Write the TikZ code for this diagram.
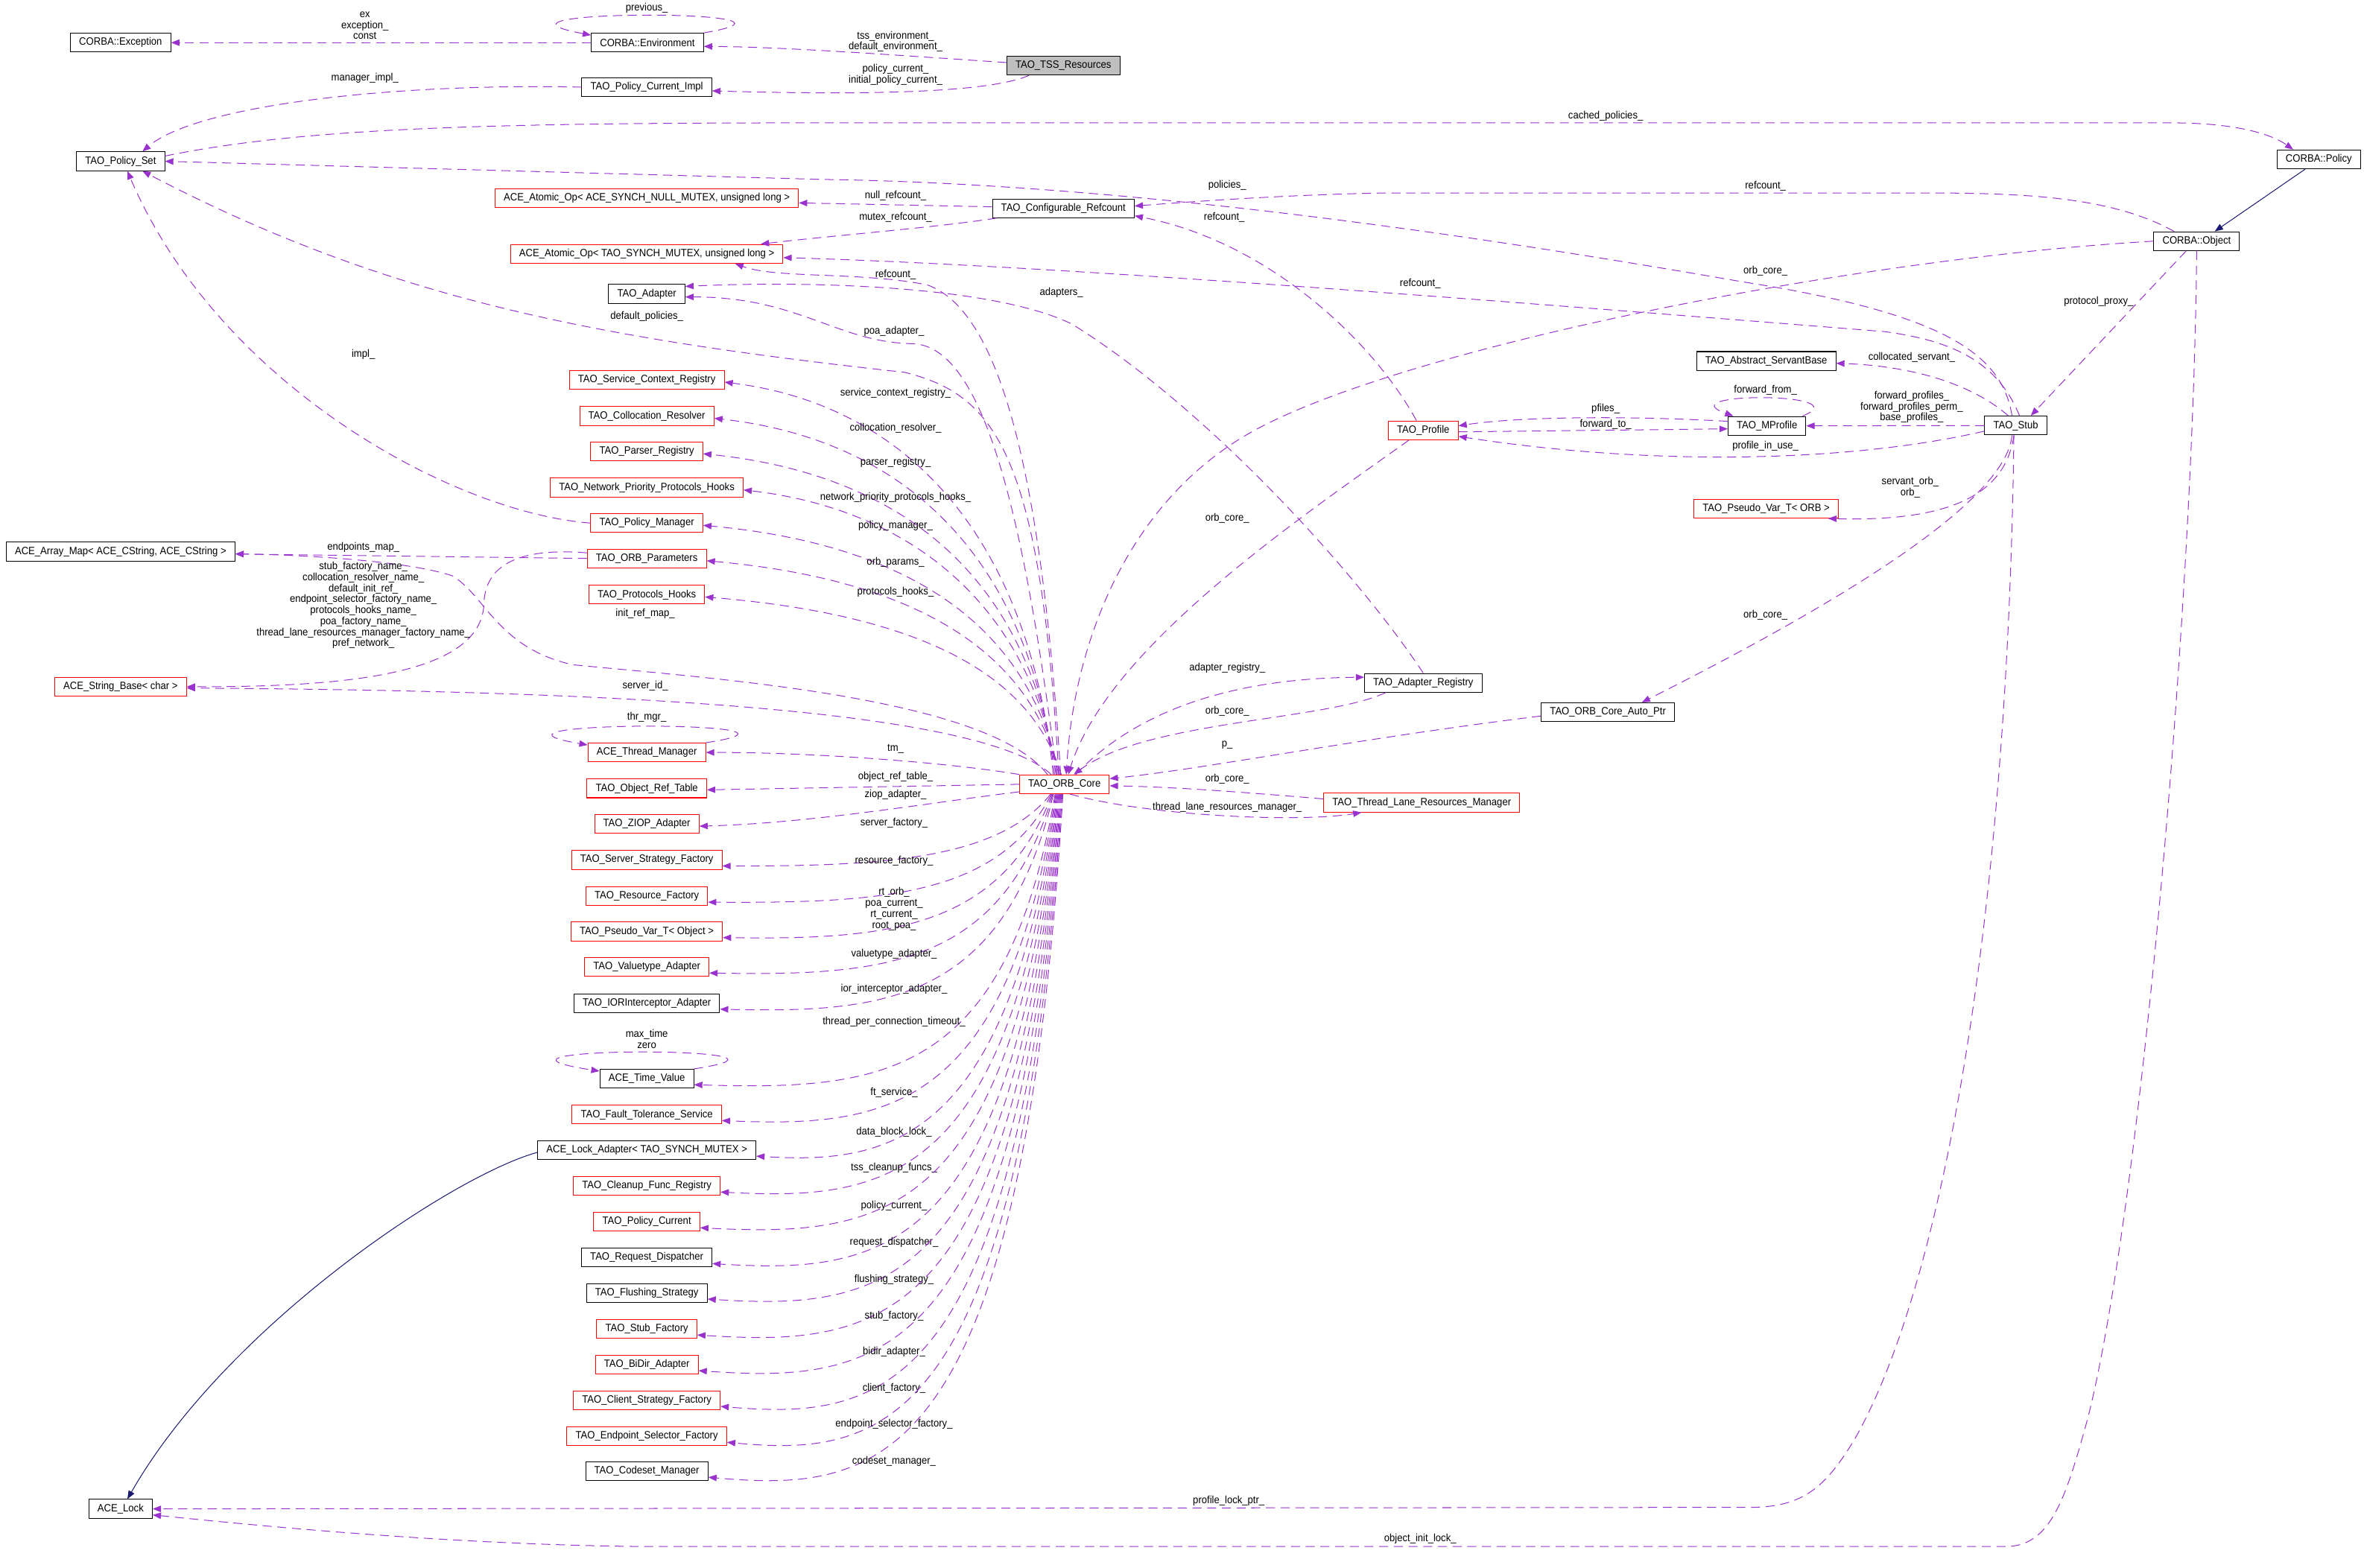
\documentclass[tikz,border=0pt]{standalone}
\usepackage{fontspec}
\setmainfont{Liberation Sans}[FakeStretch=0.92]
\usetikzlibrary{arrows.meta}

\definecolor{memberline}{HTML}{9A32CD}
\definecolor{inheritline}{HTML}{191970}

\tikzset{
  cls/.style={draw=black, fill=white, line width=0.2mm, minimum height=5mm,
    inner xsep=2.3mm, inner ysep=0.3mm, font=\fontsize{8}{8.3}\selectfont},
  clsred/.style={cls, draw=red},
  clsgray/.style={cls, fill=black!25},
  uses/.style={draw=memberline, line width=0.2mm, dash pattern=on 2.4mm off 1.5mm,
    -{Triangle[length=2.2mm, width=1.7mm]}},
  inherits/.style={draw=inheritline, line width=0.2mm,
    -{Triangle[length=2.2mm, width=1.7mm]}},
  lbl/.style={font=\fontsize{8}{8.3}\selectfont, align=center, inner sep=0pt, text=black}
}

\begin{document}
\begin{tikzpicture}[x=0.4mm, y=-0.4mm]
    \useasboundingbox (0,0) rectangle (1568,1040);

    % classes
    \node[cls] (exception) at (80,28.3) {CORBA::Exception};
    \node[cls] (environment) at (429.4,28.3) {CORBA::Environment};
    \node[clsgray] (tssres) at (705.3,43.5) {TAO\_TSS\_Resources};
    \node[cls] (pcimpl) at (429,57.8) {TAO\_Policy\_Current\_Impl};
    \node[cls] (policyset) at (80,107) {TAO\_Policy\_Set};
    \node[cls] (confrefcount) at (705.3,138.2) {TAO\_Configurable\_Refcount};
    \node[cls] (corbapolicy) at (1538,105.7) {CORBA::Policy};
    \node[cls] (corbaobject) at (1457,160) {CORBA::Object};
    \node[cls] (arraymap) at (80,366) {ACE\_Array\_Map< ACE\_CString, ACE\_CString >};
    \node[clsred] (stringbase) at (80,455.5) {ACE\_String\_Base< char >};
    \node[cls] (acelock) at (80,1001) {ACE\_Lock};
    \node[clsred] (orbcore) at (706,520.3) {TAO\_ORB\_Core};
    \node[clsred] (profile) at (944,285.5) {TAO\_Profile};
    \node[cls] (mprofile) at (1172,282.5) {TAO\_MProfile};
    \node[cls] (servantbase) at (1171.5,239.5) {TAO\_Abstract\_ServantBase};
    \node[cls] (stub) at (1337,282.3) {TAO\_Stub};
    \node[clsred] (pseudoorb) at (1171.5,337.5) {TAO\_Pseudo\_Var\_T< ORB >};
    \node[cls] (adapterreg) at (944,453) {TAO\_Adapter\_Registry};
    \node[cls] (autoptr) at (1066.5,472.5) {TAO\_ORB\_Core\_Auto\_Ptr};
    \node[clsred] (tlrm) at (943,532.5) {TAO\_Thread\_Lane\_Resources\_Manager};

    \foreach \n/\y/\sty/\txt in {
        atomicnull/131.6/clsred/{ACE\_Atomic\_Op< ACE\_SYNCH\_NULL\_MUTEX, unsigned long >},
        atomicmutex/168.4/clsred/{ACE\_Atomic\_Op< TAO\_SYNCH\_MUTEX, unsigned long >},
        adapter/195/cls/TAO\_Adapter,
        svcctx/252/clsred/TAO\_Service\_Context\_Registry,
        colloc/276/clsred/TAO\_Collocation\_Resolver,
        parser/299.5/clsred/TAO\_Parser\_Registry,
        netprio/323.5/clsred/TAO\_Network\_Priority\_Protocols\_Hooks,
        policymgr/347/clsred/TAO\_Policy\_Manager,
        orbparams/370.5/clsred/TAO\_ORB\_Parameters,
        protohooks/394.5/clsred/TAO\_Protocols\_Hooks,
        thrmgr/499.2/clsred/ACE\_Thread\_Manager,
        objref/523/clsred/TAO\_Object\_Ref\_Table,
        ziop/546.6/clsred/TAO\_ZIOP\_Adapter,
        serverfac/570.5/clsred/TAO\_Server\_Strategy\_Factory,
        resfac/594.5/clsred/TAO\_Resource\_Factory,
        pseudoobj/618/clsred/{TAO\_Pseudo\_Var\_T< Object >},
        valuetype/641.5/clsred/TAO\_Valuetype\_Adapter,
        iorint/665.5/cls/TAO\_IORInterceptor\_Adapter,
        timevalue/715.6/cls/ACE\_Time\_Value,
        ftservice/739.4/clsred/TAO\_Fault\_Tolerance\_Service,
        lockadapter/763/cls/{ACE\_Lock\_Adapter< TAO\_SYNCH\_MUTEX >},
        cleanup/786.8/clsred/TAO\_Cleanup\_Func\_Registry,
        policycur/810.5/clsred/TAO\_Policy\_Current,
        reqdisp/834.3/cls/TAO\_Request\_Dispatcher,
        flushing/857.8/cls/TAO\_Flushing\_Strategy,
        stubfac/881.6/clsred/TAO\_Stub\_Factory,
        bidir/905.3/clsred/TAO\_BiDir\_Adapter,
        clientfac/929/clsred/TAO\_Client\_Strategy\_Factory,
        endpointsel/952.8/clsred/TAO\_Endpoint\_Selector\_Factory,
        codeset/976/cls/TAO\_Codeset\_Manager}
        \node[\sty] (\n) at (429,\y) {\txt};

    % inheritance
    \draw[inherits] ([xshift=-3.6mm]corbapolicy.south) -- ([xshift=4.8mm]corbaobject.north);
    \draw[inherits] ([yshift=-0.6mm]lockadapter.west) .. controls (300,780) and (150,880) .. ([xshift=1.8mm]acelock.north);

    % top left
    \draw[uses] (environment.west) -- (exception.east) node[lbl] at (242,17) {ex\\exception\_\\const};
    \draw[uses] (environment.north east) .. controls (560,6) and (300,6) .. ([yshift=-0.6mm]environment.north west) node[lbl] at (429,5.5) {previous\_};
    \draw[uses] ([yshift=0.8mm]tssres.west) .. controls (600,37) and (520,31) .. ([yshift=-1mm]environment.east) node[lbl] at (594,27.5) {tss\_environment\_\\default\_environment\_};
    \draw[uses] ([xshift=6mm]tssres.south west) .. controls (655,62) and (570,63) .. ([yshift=-1mm]pcimpl.east) node[lbl] at (594,49.5) {policy\_current\_\\initial\_policy\_current\_};
    \draw[uses] (pcimpl.west) .. controls (260,55) and (130,70) .. ([xshift=-6mm]policyset.north east) node[lbl] at (242,52) {manager\_impl\_};
    \draw[uses] ([yshift=-1.2mm]policyset.north east) .. controls (200,85) and (320,81.5) .. (544,81.5) -- (1440,81.5) .. controls (1480,81.5) and (1505,88) .. ([xshift=4.4mm]corbapolicy.north west) node[lbl] at (1065,77) {cached\_policies\_};
    \draw[uses] (policymgr.west) .. controls (300,340) and (145,255) .. ([xshift=-10mm]policyset.south east) node[lbl] at (241,235) {impl\_};

    % refcounts
    \draw[uses] ([yshift=0.4mm]confrefcount.west) -- ([yshift=-1.2mm]atomicnull.east) node[lbl] at (594,130) {null\_refcount\_};
    \draw[uses] ([xshift=1.2mm]confrefcount.south west) .. controls (620,151) and (555,156) .. ([xshift=-6mm]atomicmutex.north east) node[lbl] at (594,144) {mutex\_refcount\_};
    \draw[uses] ([xshift=-1.8mm]profile.north) .. controls (910,225) and (840,160) .. ([yshift=-2mm]confrefcount.east) node[lbl] at (812,144) {refcount\_};
    \draw[uses] ([xshift=-6mm]corbaobject.north) .. controls (1400,130) and (1340,128) .. (1274,128) -- (920,128) .. controls (860,129) and (800,133) .. ([yshift=0.6mm]confrefcount.east) node[lbl] at (1171,123.5) {refcount\_};
    \draw[uses] ([xshift=-1mm]stub.north) .. controls (1328,235) and (1290,208) .. (1156,187) .. controls (1000,160) and (760,122) .. (544,119) -- (policyset.east) node[lbl] at (814,123) {policies\_};
    \draw[uses] ([xshift=1mm]stub.north) .. controls (1325,240) and (1295,226) .. (1250,220) .. controls (1000,200) and (700,176) .. ([yshift=-1mm]atomicmutex.east) node[lbl] at (942,188) {refcount\_};

    % ORB core, upwards
    \draw[uses] ([xshift=-1mm]orbcore.north) .. controls (690,300) and (660,205) .. (615,189) .. controls (570,180) and (515,185) .. ([xshift=-12.8mm]atomicmutex.south east) node[lbl] at (594,182) {refcount\_};
    \draw[uses] ([xshift=-1.5mm]orbcore.north) .. controls (690,300) and (660,262) .. (600,247) .. controls (400,225) and (260,200) .. ([xshift=-6mm]policyset.south east) node[lbl] at (429,210) {default\_policies\_};
    \draw[uses] ([xshift=-2mm]orbcore.north) .. controls (678,330) and (650,229) .. (605,228) .. controls (555,227) and (530,197) .. ([yshift=-0.8mm]adapter.east) node[lbl] at (593,220) {poa\_adapter\_};
    \foreach \n/\y/\cy/\ly/\lab in {
        svcctx/252/270/261/service\_context\_registry\_,
        colloc/276/293/284/collocation\_resolver\_,
        parser/299.5/316/307/parser\_registry\_,
        netprio/323.5/339/330/network\_priority\_protocols\_hooks\_,
        policymgr/347/362/349/policy\_manager\_,
        orbparams/370.5/385/373/orb\_params\_,
        protohooks/394.5/408/393/protocols\_hooks\_}
        \draw[uses] ([xshift={-3mm+0.015mm*(\y-250)}]orbcore.north) .. controls (684,{\y+0.45*(513-\y)}) and (612,\cy) .. ([yshift=-0.6mm]\n.east) node[lbl] at (594,\ly) {\lab};
    \draw[uses] ([xshift=-4.5mm]orbcore.north) .. controls (655,462) and (470,450) .. (380,441) .. controls (330,430) and (322,395) .. (300,382) .. controls (270,372) and (200,368) .. ([yshift=-0.6mm]arraymap.east) node[lbl] at (428,407) {init\_ref\_map\_};
    \draw[uses] ([xshift=-3.5mm]orbcore.north) .. controls (650,470) and (400,458) .. ([yshift=-0.4mm]stringbase.east) node[lbl] at (428,455) {server\_id\_};
    \draw[uses] (orbparams.west) -- ([yshift=-0.6mm]arraymap.east) node[lbl] at (241,363) {endpoints\_map\_};
    \draw[uses] ([yshift=1.5mm]orbparams.west) .. controls (342,363) and (322,376) .. (321,400) .. controls (320,445) and (240,456) .. (stringbase.east)
        node[lbl] at (241,401.5) {stub\_factory\_name\_\\collocation\_resolver\_name\_\\default\_init\_ref\_\\endpoint\_selector\_factory\_name\_\\protocols\_hooks\_name\_\\poa\_factory\_name\_\\thread\_lane\_resources\_manager\_factory\_name\_\\pref\_network\_};

    % ORB core, downwards
    \draw[uses] (thrmgr.north east) .. controls (565,478) and (295,478) .. ([yshift=-0.6mm]thrmgr.north west) node[lbl] at (429,476) {thr\_mgr\_};
    \draw[uses] (timevalue.north east) .. controls (560,694) and (290,694) .. ([yshift=-0.6mm]timevalue.north west) node[lbl] at (429,689.5) {max\_time\\zero};
    \draw[uses] (orbcore.north west) .. controls (630,506) and (540,499) .. (thrmgr.east) node[lbl] at (594,497) {tm\_};
    \draw[uses] (orbcore.west) -- ([yshift=-0.4mm]objref.east) node[lbl] at (594,515.5) {object\_ref\_table\_};
    \draw[uses] ([yshift=-2mm]orbcore.west) .. controls (620,532) and (540,546) .. ([yshift=-0.6mm]ziop.east) node[lbl] at (594,527) {ziop\_adapter\_};
    \foreach \n/\y/\ly/\lab in {
        serverfac/570.5/546/server\_factory\_,
        resfac/594.5/571/resource\_factory\_,
        pseudoobj/618/603/{rt\_orb\_\\poa\_current\_\\rt\_current\_\\root\_poa\_},
        valuetype/641.5/633/valuetype\_adapter\_,
        iorint/665.5/656/ior\_interceptor\_adapter\_,
        timevalue/715.6/678/thread\_per\_connection\_timeout\_,
        ftservice/739.4/725/ft\_service\_,
        lockadapter/763/751/data\_block\_lock\_,
        cleanup/786.8/775/tss\_cleanup\_funcs\_,
        policycur/810.5/800/policy\_current\_,
        reqdisp/834.3/824/request\_dispatcher\_,
        flushing/857.8/849/flushing\_strategy\_,
        stubfac/881.6/873/stub\_factory\_,
        bidir/905.3/897/bidir\_adapter\_,
        clientfac/929/921/client\_factory\_,
        endpointsel/952.8/945/endpoint\_selector\_factory\_,
        codeset/976/969.5/codeset\_manager\_}
        \draw[uses] ([xshift={-4mm+0.008mm*(\y-526)}]orbcore.south) .. controls ({660+0.04*(\y-526)},\y) and (585,{\y+3+0.025*(\y-526)}) .. ([yshift=-1.6mm]\n.east) node[lbl] at (593,\ly) {\lab};

    % ORB core, right side
    \draw[uses] ([xshift=3mm]orbcore.north) .. controls (755,470) and (820,450) .. ([yshift=1.5mm]adapterreg.west) node[lbl] at (814,443) {adapter\_registry\_};
    \draw[uses] ([xshift=-10mm]adapterreg.south) .. controls (880,478) and (760,478) .. ([xshift=2.5mm]orbcore.north) node[lbl] at (814,472) {orb\_core\_};
    \draw[uses] (adapterreg.north) .. controls (900,380) and (800,270) .. (711,215) .. controls (660,190) and (540,186) .. ([yshift=2mm]adapter.east) node[lbl] at (704,194) {adapters\_};
    \draw[uses] ([yshift=-1mm]autoptr.west) .. controls (900,490) and (800,510) .. ([yshift=1.5mm]orbcore.east) node[lbl] at (814,494) {p\_};
    \draw[uses] ([yshift=1mm]tlrm.west) .. controls (830,526) and (780,522) .. ([yshift=-0.4mm]orbcore.east) node[lbl] at (814,517) {orb\_core\_};
    \draw[uses] ([xshift=1.5mm]orbcore.south) .. controls (760,541) and (860,546) .. ([xshift=-16mm]tlrm.south) node[lbl] at (814,535.5) {thread\_lane\_resources\_manager\_};
    \draw[uses] ([xshift=-3.8mm]profile.south) .. controls (860,345) and (735,430) .. ([xshift=1mm]orbcore.north) node[lbl] at (814,344) {orb\_core\_};
    \draw[uses] (corbaobject.west) .. controls (1220,172) and (910,235) .. (821,292) .. controls (745,340) and (712,430) .. ([xshift=0.5mm]orbcore.north) node[lbl] at (1171,180) {orb\_core\_};

    % stub and profiles
    \draw[uses] ([xshift=-2.8mm]corbaobject.south) -- ([xshift=4mm]stub.north) node[lbl] at (1392,200) {protocol\_proxy\_};
    \draw[uses] ([xshift=-2mm]stub.north) .. controls (1312,258) and (1275,243) .. ([yshift=-0.6mm]servantbase.east) node[lbl] at (1268,237) {collocated\_servant\_};
    \draw[uses] (stub.west) -- (mprofile.east) node[lbl] at (1268,270) {forward\_profiles\_\\forward\_profiles\_perm\_\\base\_profiles\_};
    \draw[uses] ([xshift=-1mm]mprofile.north east) .. controls (1235,260) and (1105,260) .. ([xshift=1.5mm]mprofile.north west) node[lbl] at (1171,259) {forward\_from\_};
    \draw[uses] ([yshift=1.2mm]mprofile.west) .. controls (1085,276) and (1010,276) .. ([yshift=1.2mm]profile.east) node[lbl] at (1065,271) {pfiles\_};
    \draw[uses] ([yshift=-0.4mm]profile.east) -- ([yshift=-0.8mm]mprofile.west) node[lbl] at (1065,281.5) {forward\_to\_};
    \draw[uses] ([yshift=-1.5mm]stub.west) .. controls (1230,306) and (1100,310) .. ([yshift=-1.6mm]profile.east) node[lbl] at (1171,296) {profile\_in\_use\_};
    \draw[uses] ([xshift=-0.5mm]stub.south) .. controls (1330,330) and (1290,346) .. ([xshift=-2.8mm]pseudoorb.south east) node[lbl] at (1267,323.5) {servant\_orb\_\\orb\_};
    \draw[uses] ([xshift=-1mm]stub.south) .. controls (1330,340) and (1180,420) .. ([xshift=9mm]autoptr.north) node[lbl] at (1171,408) {orb\_core\_};

    % locks
    \draw[uses] ([xshift=-0.5mm]stub.south) .. controls (1332,600) and (1290,850) .. (1230,955) .. controls (1210,988) and (1195,1000) .. (1160,1000) -- (acelock.east) node[lbl] at (815,995.5) {profile\_lock\_ptr\_};
    \draw[uses] (corbaobject.south) .. controls (1455,400) and (1420,800) .. (1385,940) .. controls (1370,995) and (1360,1026) .. (1330,1026) -- (430,1026) .. controls (300,1025) and (170,1012) .. ([yshift=-1.6mm]acelock.east) node[lbl] at (942,1021) {object\_init\_lock\_};
\end{tikzpicture}
\end{document}
